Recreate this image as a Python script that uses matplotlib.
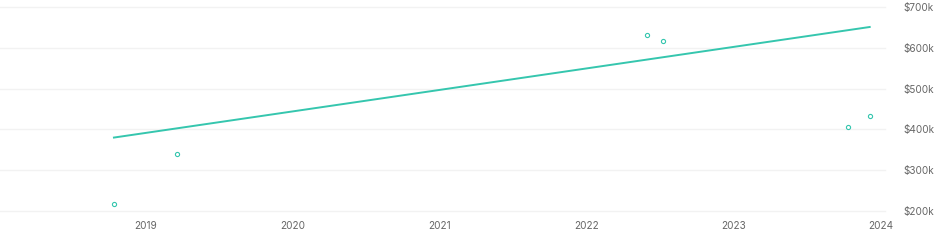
import matplotlib
matplotlib.use("Agg")
import matplotlib.pyplot as plt
import matplotlib.dates as mdates
import numpy as np
from datetime import datetime

# sale points (date, price)
sale_dates = [datetime(2018, 10, 15), datetime(2019, 3, 20), datetime(2022, 5, 30),
              datetime(2022, 7, 10), datetime(2023, 10, 12), datetime(2023, 12, 5)]
sale_prices = [217000, 339000, 632000, 617000, 405000, 434000]

# trend line endpoints
trend_dates = [datetime(2018, 10, 15), datetime(2023, 12, 5)]
trend_prices = [380000, 651000]

y_ticks = [200000, 300000, 400000, 500000, 600000, 700000]
y_labels = ["$200k", "$300k", "$400k", "$500k", "$600k", "$700k"]
x_years = [2019, 2020, 2021, 2022, 2023, 2024]

plt.rcParams['font.family'] = ['Inter', 'DejaVu Sans']

fig = plt.figure(figsize=(9.5, 2.41), dpi=100)
ax = fig.add_axes([0.0, 1 - 211 / 241, 885 / 950, (211 - 7) / 241])

teal = "#35c6ae"
ax.plot(trend_dates, trend_prices, color=teal, lw=1.4, zorder=3)
ax.scatter(sale_dates, sale_prices, s=9, facecolors="white", edgecolors=teal,
           linewidths=0.8, zorder=4)

ax.set_ylim(200000, 700000)
ax.set_xlim(datetime(2018, 1, 5), datetime(2024, 1, 12))
ax.set_yticks(y_ticks)
ax.set_yticklabels(y_labels)
ax.set_xticks([datetime(y, 1, 1) for y in x_years])
ax.xaxis.set_major_formatter(mdates.DateFormatter("%Y"))

ax.yaxis.tick_right()
ax.grid(axis="y", color="#f2f2f2", lw=1, zorder=0)
ax.grid(axis="x", visible=False)
for s in ax.spines.values():
    s.set_visible(False)
ax.tick_params(axis="both", length=0, colors="#666666", labelsize=7.2)
ax.tick_params(axis="y", pad=13)
ax.tick_params(axis="x", pad=7)
for gl in ax.get_ygridlines():
    gl.set_clip_on(False)

fig.savefig("out.png", dpi=100)
